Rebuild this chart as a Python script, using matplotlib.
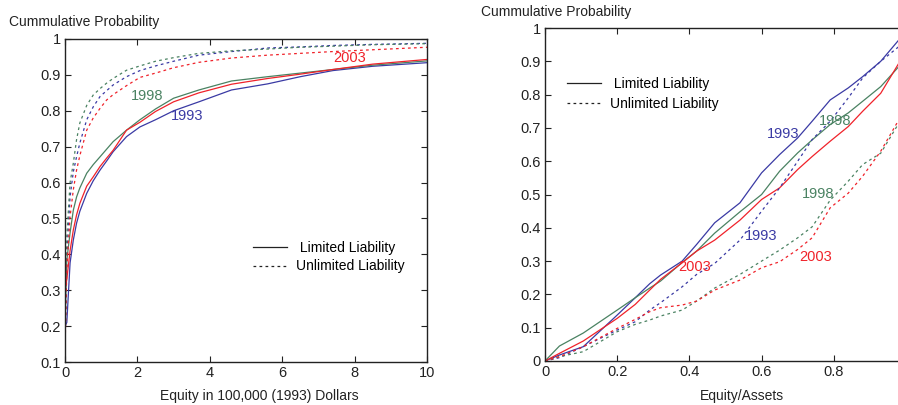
import matplotlib
matplotlib.use("Agg")
import matplotlib.pyplot as plt
from matplotlib.lines import Line2D

plt.rcParams['font.family'] = ['Liberation Sans', 'DejaVu Sans']
plt.rcParams['font.size'] = 10

BLUE = '#3a3aa4'
GREEN = '#4a8262'
RED = '#f0222a'
DASH = (0, (2.2, 2.6))

# left panel: equity in 100,000 (1993) dollars
eq_x = [0, 0.05, 0.14, 0.23, 0.32, 0.41, 0.6, 0.78, 0.97, 1.15, 1.33, 1.7, 2.07, 2.5, 3.0, 3.7,
        4.6, 5.6, 6.5, 7.4, 8.5, 10]
eq_ll_1993 = [0.2, 0.21, 0.376, 0.44, 0.487, 0.52, 0.57, 0.605, 0.635, 0.66, 0.686, 0.728, 0.755,
              0.775, 0.8, 0.825, 0.858, 0.875, 0.895, 0.912, 0.924, 0.934]
eq_ll_1998 = [0.2, 0.384, 0.46, 0.523, 0.56, 0.585, 0.626, 0.65, 0.672, 0.693, 0.714, 0.746, 0.775,
              0.805, 0.835, 0.858, 0.883, 0.895, 0.905, 0.915, 0.927, 0.939]
eq_ll_2003 = [0.3, 0.33, 0.41, 0.468, 0.51, 0.542, 0.59, 0.616, 0.645, 0.668, 0.69, 0.746, 0.768,
              0.798, 0.825, 0.85, 0.874, 0.89, 0.902, 0.915, 0.93, 0.943]
eq_ul_1993 = [0.13, 0.4, 0.56, 0.63, 0.672, 0.71, 0.775, 0.811, 0.84, 0.856, 0.872, 0.895, 0.912,
              0.925, 0.938, 0.955, 0.965, 0.975, 0.978, 0.982, 0.985, 0.988]
eq_ul_1998 = [0.13, 0.45, 0.6, 0.654, 0.72, 0.766, 0.815, 0.844, 0.862, 0.877, 0.89, 0.913, 0.925,
              0.938, 0.948, 0.96, 0.967, 0.972, 0.977, 0.98, 0.984, 0.987]
eq_ul_2003 = [0.13, 0.36, 0.505, 0.58, 0.635, 0.675, 0.746, 0.78, 0.807, 0.83, 0.845, 0.87, 0.893,
              0.905, 0.92, 0.935, 0.947, 0.955, 0.96, 0.965, 0.97, 0.977]

# right panel: equity / assets
ea_x = [0, 0.04, 0.106, 0.2, 0.25, 0.29, 0.32, 0.38, 0.42, 0.47, 0.54, 0.6, 0.65, 0.7, 0.74,
        0.79, 0.84, 0.88, 0.93, 0.98, 1.0]
ea_ll_1993 = [0, 0.018, 0.043, 0.138, 0.19, 0.232, 0.258, 0.3, 0.35, 0.415, 0.475, 0.565, 0.62,
              0.67, 0.72, 0.784, 0.82, 0.854, 0.9, 0.964, 0.98]
ea_ll_1998 = [0, 0.045, 0.084, 0.153, 0.19, 0.219, 0.24, 0.296, 0.33, 0.384, 0.448, 0.5, 0.57,
              0.625, 0.664, 0.71, 0.745, 0.78, 0.824, 0.884, 0.9]
ea_ll_2003 = [0, 0.023, 0.06, 0.128, 0.17, 0.213, 0.245, 0.295, 0.33, 0.363, 0.423, 0.485, 0.52,
              0.575, 0.614, 0.66, 0.704, 0.75, 0.804, 0.894, 0.91]
ea_ul_1993 = [0, 0.01, 0.043, 0.093, 0.118, 0.153, 0.175, 0.223, 0.26, 0.293, 0.363, 0.45, 0.52,
              0.6, 0.665, 0.72, 0.79, 0.85, 0.9, 0.944, 0.97]
ea_ul_1998 = [0, 0.013, 0.028, 0.088, 0.11, 0.123, 0.135, 0.153, 0.18, 0.219, 0.26, 0.3, 0.333,
              0.37, 0.403, 0.483, 0.54, 0.59, 0.624, 0.714, 0.74]
ea_ul_2003 = [0, 0.013, 0.043, 0.098, 0.125, 0.148, 0.16, 0.168, 0.18, 0.213, 0.243, 0.28, 0.298,
              0.335, 0.37, 0.46, 0.504, 0.555, 0.63, 0.724, 0.75]

fig = plt.figure(figsize=(8.98, 4.05), dpi=100)
W, H = 898.0, 405.0

ax1 = fig.add_axes([65 / W, (H - 362) / H, 362 / W, 323 / H])
ax2 = fig.add_axes([545 / W, (H - 361) / H, 361 / W, 333 / H])

ax1.plot(eq_x, eq_ll_1993, color=BLUE, lw=0.9)
ax1.plot(eq_x, eq_ll_1998, color=GREEN, lw=0.9)
ax1.plot(eq_x, eq_ll_2003, color=RED, lw=0.9)
ax1.plot(eq_x, eq_ul_1993, color=BLUE, lw=0.9, ls=DASH)
ax1.plot(eq_x, eq_ul_1998, color=GREEN, lw=0.9, ls=DASH)
ax1.plot(eq_x, eq_ul_2003, color=RED, lw=0.9, ls=DASH)

ax2.plot(ea_x, ea_ll_1993, color=BLUE, lw=0.9)
ax2.plot(ea_x, ea_ll_1998, color=GREEN, lw=0.9)
ax2.plot(ea_x, ea_ll_2003, color=RED, lw=0.9)
ax2.plot(ea_x, ea_ul_1993, color=BLUE, lw=0.9, ls=DASH)
ax2.plot(ea_x, ea_ul_1998, color=GREEN, lw=0.9, ls=DASH)
ax2.plot(ea_x, ea_ul_2003, color=RED, lw=0.9, ls=DASH)

ax1.set_xlim(0, 10)
ax1.set_ylim(0.1, 1)
ax1.set_xticks([0, 2, 4, 6, 8, 10])
ax1.set_yticks([0.1, 0.2, 0.3, 0.4, 0.5, 0.6, 0.7, 0.8, 0.9, 1.0])
ax1.set_yticklabels(['0.1', '0.2', '0.3', '0.4', '0.5', '0.6', '0.7', '0.8', '0.9', '1'])

ax2.set_xlim(0, 1)
ax2.set_ylim(0, 1)
ax2.set_xticks([0, 0.2, 0.4, 0.6, 0.8, 1.0])
# the "1" label falls outside the cropped figure, as in the original
ax2.set_xticklabels(['0', '0.2', '0.4', '0.6', '0.8', ''])
ax2.set_yticks([i / 10 for i in range(11)])
ax2.set_yticklabels(['0', '0.1', '0.2', '0.3', '0.4', '0.5', '0.6', '0.7', '0.8', '0.9', '1'])

for ax in (ax1, ax2):
    ax.tick_params(direction='in', length=4, width=0.8, top=True, right=True,
                   labelsize=10.5, colors='#222222', pad=3)
    for s in ax.spines.values():
        s.set_linewidth(1.0)
        s.set_color('#222222')

ax1.set_xlabel('Equity in 100,000 (1993) Dollars', fontsize=10, color='#222222')
ax1.xaxis.set_label_coords(0.538, -0.085)
ax2.set_xlabel('Equity/Assets', fontsize=10, color='#222222')
ax2.xaxis.set_label_coords(0.545, -0.085)

fig.text(9 / W, (H - 26) / H, 'Cummulative Probability', fontsize=10, color='#222222')
fig.text(481 / W, (H - 16) / H, 'Cummulative Probability', fontsize=10, color='#222222')

# curve labels
ax1.text(2.28, 0.84, '1998', color=GREEN, fontsize=10.5, ha='center', va='center')
ax1.text(3.37, 0.785, '1993', color=BLUE, fontsize=10.5, ha='center', va='center')
ax1.text(7.85, 0.948, '2003', color=RED, fontsize=10.5, ha='center', va='center')

ax2.text(0.659, 0.682, '1993', color=BLUE, fontsize=10.5, ha='center', va='center')
ax2.text(0.803, 0.72, '1998', color=GREEN, fontsize=10.5, ha='center', va='center')
ax2.text(0.756, 0.50, '1998', color=GREEN, fontsize=10.5, ha='center', va='center')
ax2.text(0.598, 0.375, '1993', color=BLUE, fontsize=10.5, ha='center', va='center')
ax2.text(0.75, 0.311, '2003', color=RED, fontsize=10.5, ha='center', va='center')
ax2.text(0.415, 0.281, '2003', color=RED, fontsize=10.5, ha='center', va='center')

handles = [Line2D([], [], color='#222222', lw=0.9),
           Line2D([], [], color='#222222', lw=0.9, ls=DASH)]
labels = [' Limited Liability', 'Unlimited Liability']
ax1.legend(handles, labels, loc='upper left', bbox_to_anchor=((247 - 65) / 362, (362 - 235) / 323),
           frameon=False, handlelength=2.5, handletextpad=0.65, labelspacing=0.35,
           fontsize=10, borderaxespad=0)
ax2.legend(handles, labels, loc='upper left', bbox_to_anchor=((561 - 545) / 361, (361 - 71) / 333),
           frameon=False, handlelength=2.5, handletextpad=0.65, labelspacing=0.45,
           fontsize=10, borderaxespad=0)

fig.savefig('out.png', dpi=100)
